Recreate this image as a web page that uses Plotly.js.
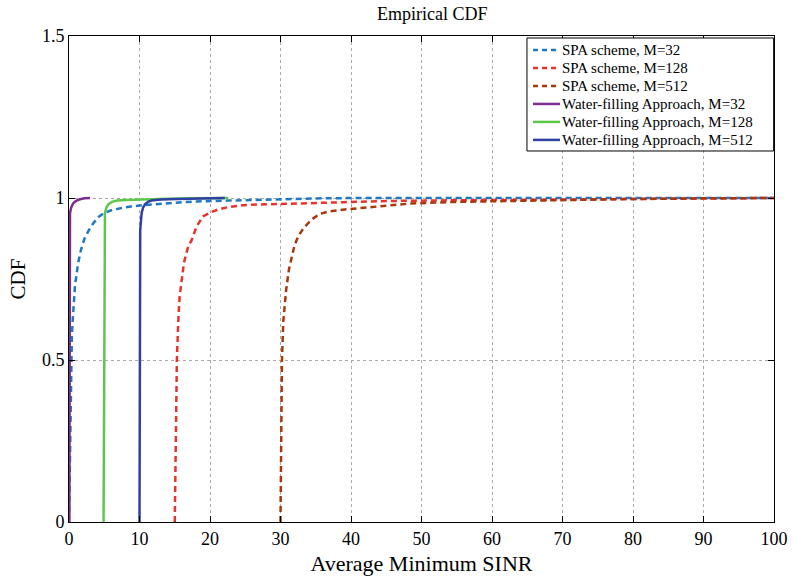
<!DOCTYPE html>
<html>
<head>
<meta charset="utf-8">
<script src="https://cdn.plot.ly/plotly-3.0.1.min.js"></script>
<style>html,body{margin:0;padding:0;background:#fff;}#chart{width:793px;height:582px;}</style>
</head>
<body>
<div id="chart"></div>
<script>
// SPA scheme, M=32
const spa32X = [0, 0.1, 0.2, 0.28, 0.4, 0.52, 0.68, 0.85, 1.3, 1.7, 2.2, 2.8, 3.45, 4.1, 4.9, 6.0, 7.2, 8.8, 10.5, 13.4, 15.3, 17.6, 22.4, 27, 31.8, 36, 41.3, 60, 80, 100];
const spa32Y = [0, 0.15, 0.35, 0.5, 0.57, 0.62, 0.68, 0.73, 0.8, 0.84, 0.875, 0.9, 0.922, 0.94, 0.953, 0.962, 0.968, 0.974, 0.978, 0.982, 0.986, 0.989, 0.992, 0.995, 0.997, 0.999, 1.0, 1.0, 1.0, 1.0];
// SPA scheme, M=128
const spa128X = [15.0, 15.1, 15.3, 15.5, 15.7, 15.9, 16.3, 16.9, 17.4, 18.1, 19.0, 20.0, 21.2, 22.6, 24.7, 27, 29.5, 34.2, 38.9, 46, 55, 65, 75, 85, 100];
const spa128Y = [0, 0.2, 0.5, 0.62, 0.7, 0.73, 0.8, 0.85, 0.87, 0.912, 0.943, 0.955, 0.965, 0.972, 0.978, 0.98, 0.982, 0.984, 0.987, 0.991, 0.993, 0.995, 0.997, 0.999, 1.0];
// SPA scheme, M=512
const spa512X = [30.0, 30.1, 30.2, 30.4, 30.8, 31.2, 31.6, 32.0, 32.5, 33.2, 33.9, 34.7, 35.6, 36.8, 38.4, 40.2, 42.2, 45, 48.4, 55, 62, 70, 80, 90, 100];
const spa512Y = [0, 0.25, 0.495, 0.62, 0.716, 0.78, 0.819, 0.855, 0.881, 0.905, 0.922, 0.938, 0.951, 0.958, 0.963, 0.967, 0.971, 0.977, 0.983, 0.988, 0.991, 0.994, 0.997, 0.999, 1.0];
// Water-filling Approach, M=32
const wf32X = [0.05, 0.08, 0.1, 0.14, 0.3, 0.6, 1.0, 1.56, 2.2, 2.98];
const wf32Y = [0, 0.5, 0.9, 0.953, 0.97, 0.984, 0.991, 0.996, 0.999, 1.0];
// Water-filling Approach, M=128
const wf128X = [4.9, 4.95, 5.0, 5.1, 5.3, 5.6, 6.1, 6.8, 8.0, 10.5, 14, 18, 22.6];
const wf128Y = [0, 0.5, 0.9, 0.953, 0.97, 0.981, 0.988, 0.992, 0.994, 0.996, 0.998, 0.999, 1.0];
// Water-filling Approach, M=512
const wf512X = [10.0, 10.05, 10.1, 10.3, 10.5, 10.8, 11.2, 11.7, 13, 15.3, 18, 22.1];
const wf512Y = [0, 0.5, 0.9, 0.953, 0.97, 0.981, 0.988, 0.992, 0.995, 0.997, 0.999, 1.0];

const seriesNames = ['SPA scheme, M=32', 'SPA scheme, M=128', 'SPA scheme, M=512',
  'Water-filling Approach, M=32', 'Water-filling Approach, M=128', 'Water-filling Approach, M=512'];
const seriesColors = ['#1f78c4', '#e8332c', '#a8380c', '#7e2e92', '#5cc84a', '#2e41a2'];
const seriesDashed = [true, true, true, false, false, false];
const xTicks = [0, 10, 20, 30, 40, 50, 60, 70, 80, 90, 100];
const yTicks = [0, 0.5, 1, 1.5];
const yTickText = ['0', '0.5', '1', '1.5'];

const dashed = '6px,4px';
const xs = [spa32X, spa128X, spa512X, wf32X, wf128X, wf512X];
const ys = [spa32Y, spa128Y, spa512Y, wf32Y, wf128Y, wf512Y];
const traces = xs.map((x, i) => ({
  type: 'scatter', mode: 'lines', x: x, y: ys[i], name: seriesNames[i], showlegend: false,
  line: {color: seriesColors[i], width: 2.5, dash: seriesDashed[i] ? dashed : 'solid'}
}));

// Hand-drawn legend box (paper coordinates), MATLAB style
const legX0 = 0.6496, legX1 = 0.9995, legYTop = 0.9959, legYBot = 0.7634;
const rowY0 = 0.9712, rowStep = 0.0370;
const lineX0 = 0.6582, lineX1 = 0.6965, textX = 0.6965;
const font = 'Liberation Serif, Times New Roman, serif';
const shapes = [{type: 'rect', xref: 'paper', yref: 'paper', x0: legX0, x1: legX1, y0: legYBot, y1: legYTop,
  fillcolor: '#fff', line: {color: '#000', width: 1}, layer: 'above'}];
const annotations = [];
seriesNames.forEach((n, i) => {
  const yy = rowY0 - i * rowStep;
  shapes.push({type: 'line', xref: 'paper', yref: 'paper', x0: lineX0, x1: lineX1, y0: yy, y1: yy,
    line: {color: seriesColors[i], width: 2.5, dash: seriesDashed[i] ? '5px,4px' : 'solid'}, layer: 'above'});
  annotations.push({xref: 'paper', yref: 'paper', x: textX, y: yy, xanchor: 'left', yanchor: 'middle',
    text: n, showarrow: false, font: {family: font, size: 15, color: '#000'}});
});

const layout = {
  width: 793, height: 582,
  margin: {l: 69, r: 19, t: 36, b: 60},
  paper_bgcolor: '#fff', plot_bgcolor: '#fff',
  font: {family: font, size: 16, color: '#000'},
  title: {text: 'Empirical CDF', font: {family: font, size: 18, color: '#000'}, x: 0.545, xanchor: 'center', y: 0.977, yanchor: 'middle'},
  xaxis: {
    range: [0, 100], tickvals: xTicks, ticktext: xTicks.map(String),
    showline: true, mirror: 'ticks', linecolor: '#000', linewidth: 1,
    ticks: 'inside', ticklen: 6, tickcolor: '#000',
    showgrid: true, gridcolor: '#aaa', griddash: 'dot', gridwidth: 1, zeroline: false,
    title: {text: 'Average Minimum SINR', font: {family: font, size: 22}, standoff: 8},
    tickfont: {family: font, size: 18}
  },
  yaxis: {
    range: [0, 1.5], tickvals: yTicks, ticktext: yTickText,
    showline: true, mirror: 'ticks', linecolor: '#000', linewidth: 1,
    ticks: 'inside', ticklen: 6, tickcolor: '#000',
    showgrid: true, gridcolor: '#aaa', griddash: 'dot', gridwidth: 1, zeroline: false,
    title: {text: 'CDF', font: {family: font, size: 21}, standoff: 10},
    tickfont: {family: font, size: 18}
  },
  showlegend: false,
  shapes: shapes,
  annotations: annotations
};

Plotly.newPlot('chart', traces, layout, {displayModeBar: false, staticPlot: true});
</script>
</body>
</html>
